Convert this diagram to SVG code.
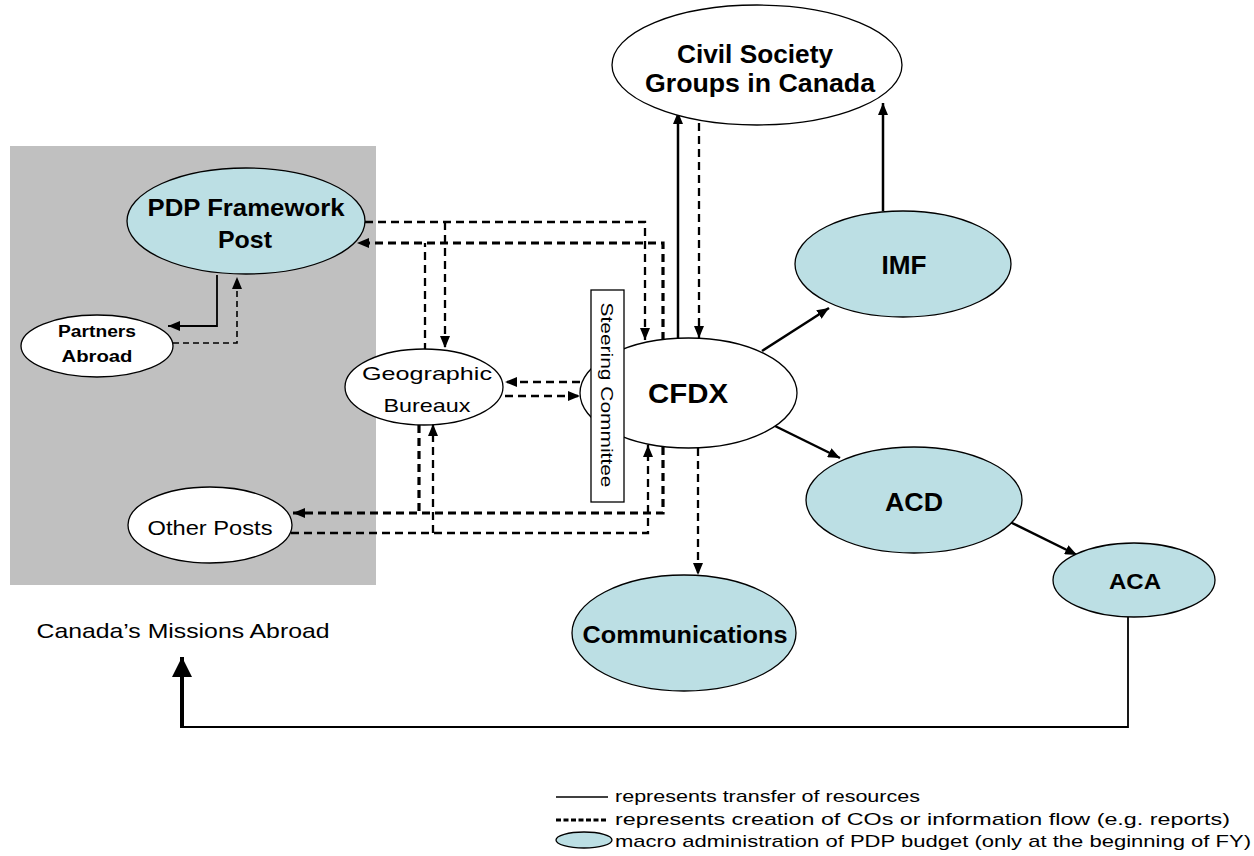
<svg xmlns="http://www.w3.org/2000/svg" width="1254" height="856" viewBox="0 0 1254 856">
<style>
  .blue { fill: #bcdfe4; stroke: #000; stroke-width: 1.3; }
  .white { fill: #fff; stroke: #000; stroke-width: 1.3; }
  .lb { font-family: "Liberation Sans", Arial, sans-serif; font-weight: bold; fill: #000; text-anchor: middle; }
  .ln { font-family: "Liberation Sans", Arial, sans-serif; font-weight: normal; fill: #000; text-anchor: middle; }
  .lg { font-family: "Liberation Sans", Arial, sans-serif; font-size: 17px; fill: #000; }
  .solid { fill: none; stroke: #000; stroke-width: 2.5; }
  .thin { fill: none; stroke: #000; stroke-width: 1.8; }
  .dash { fill: none; stroke: #000; stroke-width: 2.3; stroke-dasharray: 8 5; }
  .dashb { fill: none; stroke: #000; stroke-width: 3.2; stroke-dasharray: 8 5; }
  .dashs { fill: none; stroke: #000; stroke-width: 1.6; stroke-dasharray: 6 4; }
</style>
<defs>
  <marker id="ah" viewBox="0 0 12 10" refX="12" refY="5" markerWidth="12" markerHeight="10" markerUnits="userSpaceOnUse" orient="auto">
    <path d="M0,0 L12,5 L0,10 z" fill="#000"/>
  </marker>
  <marker id="ahb" viewBox="0 0 20 20" refX="20" refY="10" markerWidth="20" markerHeight="20" markerUnits="userSpaceOnUse" orient="auto">
    <path d="M0,0 L20,10 L0,20 z" fill="#000"/>
  </marker>
</defs>
<rect x="0" y="0" width="1254" height="856" fill="#fff"/>

<!-- Missions area -->
<rect id="missions-area" x="10" y="146" width="366" height="439" fill="#c0c0c0"/>
<text class="ln" x="183" y="638" font-size="21" textLength="293" lengthAdjust="spacingAndGlyphs">Canada’s Missions Abroad</text>

<!-- connectors -->
<g id="connectors">
  <!-- PDP -> CFDX and Geo -->
  <path class="dash" d="M365,222 H645 V340" marker-end="url(#ah)"/>
  <path class="dash" d="M445,222 V348" marker-end="url(#ah)"/>
  <!-- CFDX/Geo -> PDP -->
  <path class="dashb" d="M663,340 V243 H357" marker-end="url(#ah)"/>
  <path class="dash" d="M425,351 V243"/>
  <!-- Geo <-> Steering -->
  <path class="dash" d="M580,382 H505" marker-end="url(#ah)"/>
  <path class="dash" d="M505,396 H580" marker-end="url(#ah)"/>
  <!-- to Other Posts -->
  <path class="dashb" d="M419,425 V513"/>
  <path class="dashb" d="M663,447 V513 H293" marker-end="url(#ah)"/>
  <!-- from Other Posts -->
  <path class="dash" d="M291,533 H648 V445" marker-end="url(#ah)"/>
  <path class="dash" d="M433,533 V424" marker-end="url(#ah)"/>
  <!-- PDP <-> Partners -->
  <path class="thin" d="M217,275 V326 H168" marker-end="url(#ah)"/>
  <path class="dashs" d="M173,343 H237 V277" marker-end="url(#ah)"/>
  <!-- CFDX <-> Civil Society -->
  <path class="solid" d="M678,338 V112" marker-end="url(#ah)"/>
  <path class="dash" d="M699,123 V338" marker-end="url(#ah)"/>
  <!-- IMF -> Civil Society -->
  <path class="solid" d="M883,211 V103" marker-end="url(#ah)"/>
  <!-- CFDX -> IMF, ACD; ACD -> ACA -->
  <path class="solid" d="M762,351 L829,308" marker-end="url(#ah)"/>
  <path class="solid" d="M775,426 L840,458" marker-end="url(#ah)"/>
  <path class="solid" d="M1010,522 L1077,555" marker-end="url(#ah)"/>
  <!-- CFDX -> Communications -->
  <path class="dash" d="M698,448 V575" marker-end="url(#ah)"/>
  <!-- ACA -> Missions -->
  <path class="thin" d="M1128,617 V727 H182"/>
  <path fill="none" stroke="#000" stroke-width="4" d="M182,728 V657" marker-end="url(#ahb)"/>
</g>

<g id="civil-society">
  <ellipse class="white" cx="757" cy="65" rx="145" ry="60"/>
  <text class="lb" x="755" y="63" font-size="25" textLength="156" lengthAdjust="spacingAndGlyphs">Civil Society</text>
  <text class="lb" x="760" y="92" font-size="25" textLength="230" lengthAdjust="spacingAndGlyphs">Groups in Canada</text>
</g>

<g id="pdp-framework-post">
  <ellipse class="blue" cx="246" cy="221" rx="119" ry="53"/>
  <text class="lb" x="246" y="216" font-size="24" textLength="197" lengthAdjust="spacingAndGlyphs">PDP Framework</text>
  <text class="lb" x="245" y="248" font-size="24" textLength="54" lengthAdjust="spacingAndGlyphs">Post</text>
</g>

<g id="partners-abroad">
  <ellipse class="white" cx="97" cy="346" rx="76" ry="31"/>
  <text class="lb" x="97" y="337" font-size="16" textLength="78" lengthAdjust="spacingAndGlyphs">Partners</text>
  <text class="lb" x="97" y="362" font-size="16" textLength="71" lengthAdjust="spacingAndGlyphs">Abroad</text>
</g>

<g id="geographic-bureaux">
  <ellipse class="white" cx="424" cy="387" rx="79" ry="38"/>
  <text class="ln" x="427" y="380" font-size="19" textLength="130" lengthAdjust="spacingAndGlyphs">Geographic</text>
  <text class="ln" x="427" y="412" font-size="19" textLength="87" lengthAdjust="spacingAndGlyphs">Bureaux</text>
</g>

<g id="other-posts">
  <ellipse class="white" cx="210" cy="525" rx="82" ry="38"/>
  <text class="ln" x="210" y="535" font-size="21" textLength="125" lengthAdjust="spacingAndGlyphs">Other Posts</text>
</g>

<g id="cfdx">
  <ellipse class="white" cx="688.5" cy="393" rx="108.5" ry="55"/>
  <text class="lb" x="688" y="403" font-size="28" textLength="80" lengthAdjust="spacingAndGlyphs">CFDX</text>
</g>

<g id="steering-committee">
  <rect x="591" y="290" width="33" height="212" fill="#fff" stroke="#000" stroke-width="1.3"/>
  <text class="ln" transform="translate(607,395) rotate(90)" x="0" y="6" font-size="17" textLength="185" lengthAdjust="spacingAndGlyphs">Steering Committee</text>
</g>

<g id="imf">
  <ellipse class="blue" cx="903" cy="264" rx="108" ry="53"/>
  <text class="lb" x="904" y="274" font-size="25" textLength="45" lengthAdjust="spacingAndGlyphs">IMF</text>
</g>

<g id="acd">
  <ellipse class="blue" cx="914" cy="500" rx="108" ry="53"/>
  <text class="lb" x="914" y="511" font-size="25" textLength="58" lengthAdjust="spacingAndGlyphs">ACD</text>
</g>

<g id="aca">
  <ellipse class="blue" cx="1134" cy="580" rx="81" ry="37"/>
  <text class="lb" x="1135" y="589" font-size="22" textLength="52" lengthAdjust="spacingAndGlyphs">ACA</text>
</g>

<g id="communications">
  <ellipse class="blue" cx="684" cy="633" rx="112" ry="58"/>
  <text class="lb" x="685" y="643" font-size="24" textLength="205" lengthAdjust="spacingAndGlyphs">Communications</text>
</g>

<g id="legend">
  <line x1="556" y1="797" x2="608" y2="797" stroke="#000" stroke-width="1.3"/>
  <text class="lg" x="615" y="802" textLength="305" lengthAdjust="spacingAndGlyphs">represents transfer of resources</text>
  <line x1="556" y1="820" x2="608" y2="820" stroke="#000" stroke-width="3" stroke-dasharray="5 2.5"/>
  <text class="lg" x="615" y="825" textLength="615" lengthAdjust="spacingAndGlyphs">represents creation of COs or information flow (e.g. reports)</text>
  <ellipse class="blue" cx="584" cy="840" rx="28" ry="8"/>
  <text class="lg" x="615" y="847" textLength="636" lengthAdjust="spacingAndGlyphs">macro administration of PDP budget (only at the beginning of FY)</text>
</g>
</svg>
